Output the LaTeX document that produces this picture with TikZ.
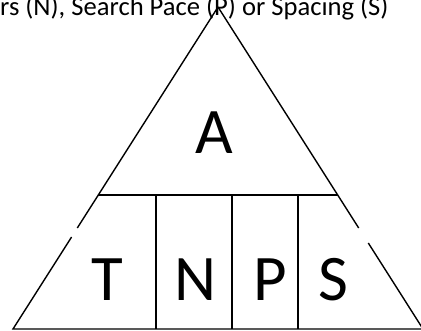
\documentclass[tikz,border=0pt]{standalone}
\usepackage{fontspec}
\setmainfont{Carlito}
\begin{document}
\begin{tikzpicture}[x=1pt,y=-1pt,
  edge/.style={line width=1.4pt, line cap=butt},
  big/.style={inner sep=0pt, font=\fontsize{65}{70}\selectfont},
  caption/.style={inner sep=0pt, anchor=base west, font=\fontsize{26.6}{30}\selectfont}]
\clip (0,0) rectangle (421,331);
% triangle corners
\coordinate (apex) at (218,7);
\coordinate (bl) at (13,329);
\coordinate (br) at (423,329);
% gaps in the sides
\coordinate (lg1) at (77.3,228);
\coordinate (lg2) at (71.6,237);
\coordinate (rg1) at (358.7,228);
\coordinate (rg2) at (368.3,243);
% band
\coordinate (hl) at (98.3,195);
\coordinate (hr) at (337.7,195);
\coordinate (v1t) at (156,195); \coordinate (v1b) at (156,329);
\coordinate (v2t) at (232,195); \coordinate (v2b) at (232,329);
\coordinate (v3t) at (298,195); \coordinate (v3b) at (298,329);

\node[caption] (cap) at (0,16) {rs (N), Search Pace (P) or Spacing (S)};

\draw[edge] (apex) -- (lg1);
\draw[edge] (lg2) -- (bl) -- (br);
\draw[edge] (apex) -- (rg1);
\draw[edge] (rg2) -- (br);
\draw[edge] (hl) -- (hr);
\draw[edge] (v1t) -- (v1b);
\draw[edge] (v2t) -- (v2b);
\draw[edge] (v3t) -- (v3b);

\node[big] (A) at (214,132.5) {A};
\node[big] (T) at (107,279.5) {T};
\node[big] (N) at (195,279.5) {N};
\node[big] (P) at (270.5,279.5) {P};
\node[big] (S) at (333,279.5) {S};
\end{tikzpicture}
\end{document}
